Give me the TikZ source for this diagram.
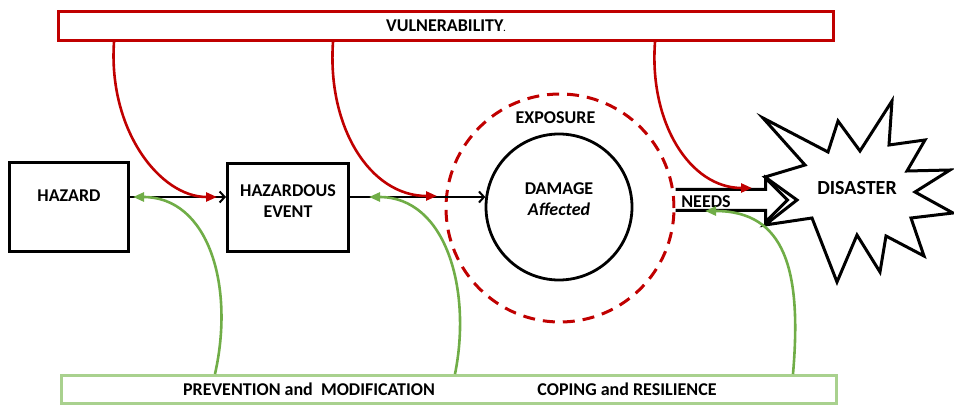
\documentclass[tikz,border=0pt]{standalone}
\usepackage{fontspec}
\setmainfont{Carlito}
\usetikzlibrary{arrows.meta,calc}
\definecolor{vred}{HTML}{C00000}
\definecolor{cgreen}{HTML}{70AD47}
\definecolor{lgreen}{HTML}{A9D18E}
\begin{document}
\begin{tikzpicture}[x=1pt,y=-1pt,
  box/.style={draw=black,line width=3pt,fill=white,inner sep=0pt},
  band/.style={line width=3pt,fill=white,inner sep=0pt},
  lbl/.style={font=\fontsize{18}{21.5}\selectfont\bfseries,inner sep=0pt,align=center},
  flow/.style={draw=black,line width=2pt,-{Straight Barb[length=5pt,width=11pt]}},
  vul/.style={draw=vred,line width=2.6pt,-{Triangle[length=11pt,width=9pt]}},
  cope/.style={draw=cgreen,line width=2.6pt,-{Triangle[length=11pt,width=9pt]}},
]
\useasboundingbox (0,0) rectangle (954,406);

% top and bottom bands
\node[band,draw=vred,minimum width=775pt,minimum height=29pt] (vul) at (446,26) {};
\node[lbl] (vult) at (446,26) {VULNERABILITY{\fontsize{9}{9}\selectfont.}};
\node[band,draw=lgreen,minimum width=775pt,minimum height=28pt] (cop) at (449,389) {};
\node[lbl] (prev) at (309,389) {PREVENTION and~ MODIFICATION};
\node[lbl] (res) at (627,389) {COPING and RESILIENCE};

% process boxes
\node[box,minimum width=119pt,minimum height=89pt] (hz) at (69,207.5) {};
\node[lbl] (hzt) at (69,196) {HAZARD};
\node[box,minimum width=121pt,minimum height=88pt] (hev) at (288,207.5) {};
\node[lbl] (hevt) at (288,201) {HAZARDOUS\\EVENT};

% exposure ring and damage circle
\node[circle,draw=vred,line width=3pt,dash pattern=on 12pt off 8pt,minimum size=228pt,inner sep=0pt] (exp) at (560,208) {};
\node[lbl] (expt) at (555.5,118) {EXPOSURE};
\node[circle,draw=black,line width=2.8pt,minimum size=146pt,inner sep=0pt] (dmg) at (559,207) {};
\node[lbl] (dmgt) at (559,199) {DAMAGE\\\itshape Affected};

% disaster burst
\draw[line width=3pt,fill=white,line join=miter]
  (763,118) -- (828,152) -- (838,121) -- (860,151) -- (892,101) -- (889,145)
  -- (925,140) -- (907,171) -- (950,170) -- (915,192) -- (953,213) -- (911,218)
  -- (924,256) -- (886,236) -- (880,272) -- (857,235) -- (837,282) -- (812,218)
  -- (765,225) -- (797,200) -- (765,177) -- (805,165) -- cycle;
\node[lbl,font=\fontsize{20}{22}\selectfont\bfseries] (dis) at (857,188) {DISASTER};

% needs block arrow
\coordinate (ns) at ($(exp.east)+(0,-8)$);
\draw[line width=3pt,fill=white,line join=miter]
  ($(ns)+(0,-10.5)$) -- ($(ns)+(90,-10.5)$) -- ($(ns)+(90,-22)$) -- ($(ns)+(112,0)$)
  -- ($(ns)+(90,22)$) -- ($(ns)+(90,10.5)$) -- ($(ns)+(0,10.5)$);
\node[lbl] (needs) at (706,202) {NEEDS};

% main flow
\coordinate (f1) at ($(hz.east)+(0,-10.5)$);
\draw[flow] (f1) -- (f1 -| hev.west);
\coordinate (f2) at ($(hev.east)+(0,-10.5)$);
\draw[flow] (f2) -- (f2 -| dmg.172);

% vulnerability influences
\coordinate (v1) at (114,42);
\coordinate (v2) at (333,42);
\coordinate (v3) at (655,42);
\coordinate (e1) at (217,197);
\coordinate (e2) at (437,196);
\coordinate (e3) at (752,188);
\draw[vul] (v1) .. controls (108,130) and (160,197) .. (e1);
\draw[vul] (v2) .. controls (327,127) and (370,196) .. (e2);
\draw[vul] (v3) .. controls (649,123) and (690,188) .. (e3);

% prevention and coping influences
\coordinate (c1) at (215,374);
\coordinate (c2) at (455,374);
\coordinate (c3) at (793,374);
\coordinate (g1) at (133,197);
\coordinate (g2) at (369,197);
\coordinate (g3) at (705,211);
\draw[cope] (c1) .. controls (235,285) and (208,197) .. (g1);
\draw[cope] (c2) .. controls (472,290) and (446,197) .. (g2);
\draw[cope] (c3) .. controls (802,270) and (785,211) .. (g3);
\end{tikzpicture}
\end{document}
